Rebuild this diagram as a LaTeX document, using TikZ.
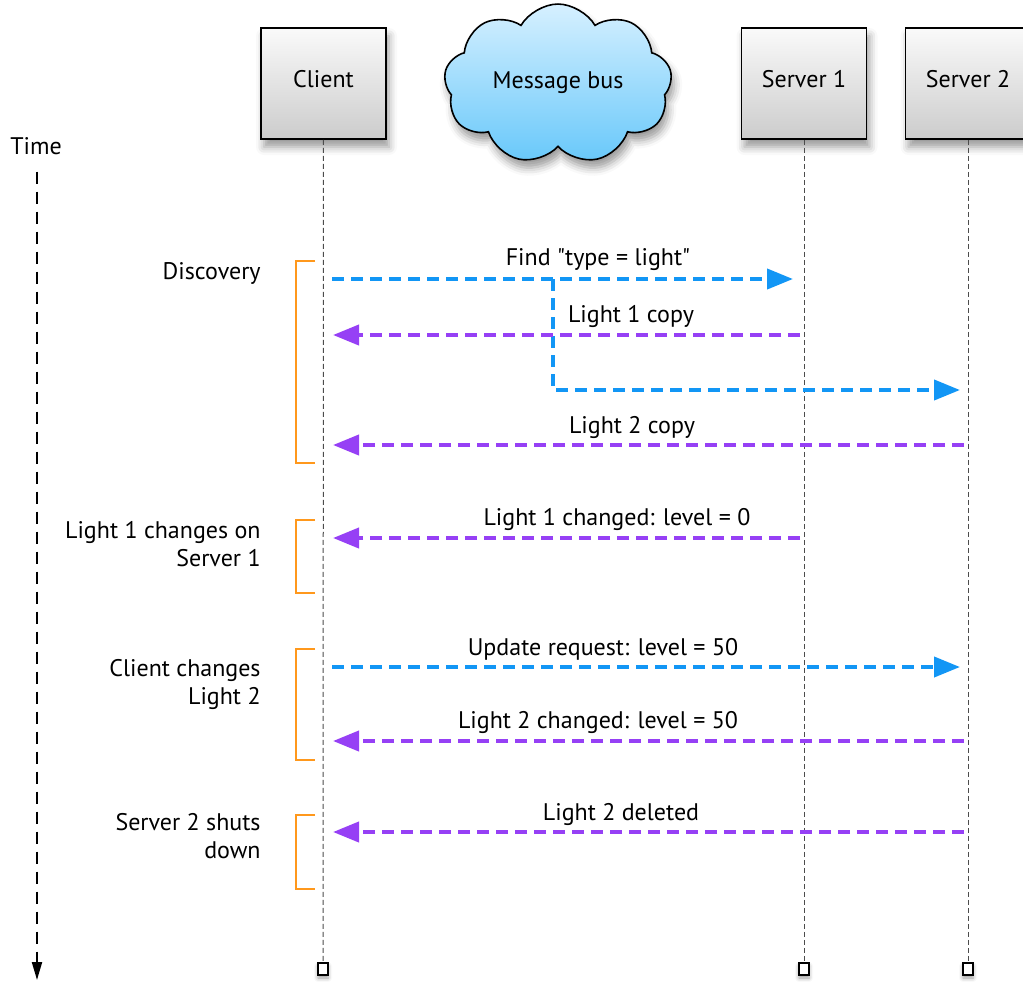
\documentclass[tikz,border=0pt]{standalone}
\usepackage{fontspec}
\setmainfont{PT Sans}
\usetikzlibrary{shapes,shadows.blur,arrows.meta}
\definecolor{reqblue}{RGB}{18,150,245}
\definecolor{replypurple}{RGB}{150,64,245}
\definecolor{phaseorange}{RGB}{255,152,28}
\definecolor{cloudtop}{RGB}{214,240,255}
\definecolor{cloudbottom}{RGB}{104,200,250}

\begin{document}
\begin{tikzpicture}[x=0.5pt,y=-0.5pt,font=\fontsize{12}{14}\selectfont]
    \tikzstyle{actor}=[draw=black,line width=0.8pt,minimum width=62.5pt,minimum height=55.5pt,text height=9pt,text depth=4.9pt,top color=gray!4,bottom color=gray!40,blur shadow={shadow xshift=1.5pt,shadow yshift=-4pt,shadow blur radius=4pt}]
    \tikzstyle{bus}=[cloud,cloud puffs=9,cloud puff arc=120,aspect=1.6,draw=black,line width=0.8pt,minimum width=114pt,minimum height=70pt,text height=9pt,text depth=4.9pt,top color=cloudtop,bottom color=cloudbottom,blur shadow={shadow xshift=1.5pt,shadow yshift=-4pt,shadow blur radius=4pt}]
    \tikzstyle{endbox}=[draw=black,line width=0.9pt,fill=white,minimum width=5pt,minimum height=6pt,inner sep=0pt,blur shadow={shadow xshift=0pt,shadow yshift=-1.5pt,shadow blur radius=2pt}]
    \tikzstyle{lifeline}=[draw=black!70,line width=0.5pt,dash pattern=on 2.5pt off 1.5pt]
    \tikzstyle{timeline}=[draw=black,line width=1pt,dash pattern=on 6pt off 4pt,-{Triangle[length=9pt,width=5pt]}]
    \tikzstyle{request}=[draw=reqblue,line width=2pt,dash pattern=on 6pt off 3.5pt,-{Triangle[length=13pt,width=10pt]}]
    \tikzstyle{reply}=[draw=replypurple,line width=2pt,dash pattern=on 6pt off 3.5pt,-{Triangle[length=13pt,width=10pt]}]
    \tikzstyle{phase}=[draw=phaseorange,line width=1pt]
    \tikzstyle{caption}=[align=right,anchor=east,inner sep=0pt]
    \tikzstyle{msg}=[inner sep=0pt]

    \useasboundingbox (0,0) rectangle (1023,981);

    % participants
    \node[actor] (client) at (323.5,83.5) {Client};
    \node[bus] (bus) at (558,84) {Message bus};
    \node[actor] (server1) at (804,83.5) {Server 1};
    \node[actor] (server2) at (968,83.5) {Server 2};

    % lifelines
    \node[endbox] (clientend) at (323,969) {};
    \node[endbox] (server1end) at (804,969) {};
    \node[endbox] (server2end) at (968,969) {};
    \draw[lifeline] (client) -- (clientend);
    \draw[lifeline] (server1) -- (server1end);
    \draw[lifeline] (server2) -- (server2end);

    % time axis
    \node (time) at (36,146) {Time};
    \coordinate (timeend) at (37,980);
    \draw[timeline] ([yshift=-5pt]time.south -| timeend) -- (timeend);

    % phases
    \draw[phase] (315,261) -- (296,261) -- (296,463) -- (315,463);
    \draw[phase] (315,520) -- (296,520) -- (296,593) -- (315,593);
    \draw[phase] (315,649) -- (296,649) -- (296,760) -- (315,760);
    \draw[phase] (315,815) -- (296,815) -- (296,889) -- (315,889);
    \node[caption] (discovery) at (261,273) {Discovery};
    \node[caption] (lightchange) at (261,544) {Light 1 changes on\\Server 1};
    \node[caption] (clientchange) at (261,684) {Client changes\\Light 2};
    \node[caption] (shutdown) at (261,836) {Server 2 shuts\\down};

    % points on the lifelines
    \coordinate (find-c) at (323,279);
    \coordinate (find-s1) at (804,279);
    \coordinate (fork) at (553,279);
    \coordinate (find-s2) at (968,390);
    \coordinate (copy1-s1) at (804,335);
    \coordinate (copy1-c) at (323,335);
    \coordinate (copy2-s2) at (968,445);
    \coordinate (copy2-c) at (323,445);
    \coordinate (change1-s1) at (804,538);
    \coordinate (change1-c) at (323,538);
    \coordinate (update-c) at (323,667);
    \coordinate (update-s2) at (968,667);
    \coordinate (change2-s2) at (968,741);
    \coordinate (change2-c) at (323,741);
    \coordinate (delete-s2) at (968,832);
    \coordinate (delete-c) at (323,832);

    % messages
    \draw[request,shorten <=4.5pt,shorten >=5.5pt] (find-c) -- (find-s1);
    \draw[request,shorten >=4pt] (fork) |- (find-s2);
    \draw[reply,shorten <=2pt,shorten >=5pt] (copy1-s1) -- (copy1-c);
    \draw[reply,shorten <=2pt,shorten >=5pt] (copy2-s2) -- (copy2-c);
    \draw[reply,shorten <=2pt,shorten >=5pt] (change1-s1) -- (change1-c);
    \draw[request,shorten <=4.5pt,shorten >=4pt] (update-c) -- (update-s2);
    \draw[reply,shorten <=2pt,shorten >=5pt] (change2-s2) -- (change2-c);
    \draw[reply,shorten <=2pt,shorten >=5pt] (delete-s2) -- (delete-c);

    \node[msg] (findlabel) at (598,260) {Find \textquotedbl type = light\textquotedbl};
    \node[msg] (copy1label) at (631,316) {Light 1 copy};
    \node[msg] (copy2label) at (632,427) {Light 2 copy};
    \node[msg] (change1label) at (617,519) {Light 1 changed: level = 0};
    \node[msg] (updatelabel) at (603,649) {Update request: level = 50};
    \node[msg] (change2label) at (598,722) {Light 2 changed: level = 50};
    \node[msg] (deletelabel) at (621,814) {Light 2 deleted};
\end{tikzpicture}
\end{document}
